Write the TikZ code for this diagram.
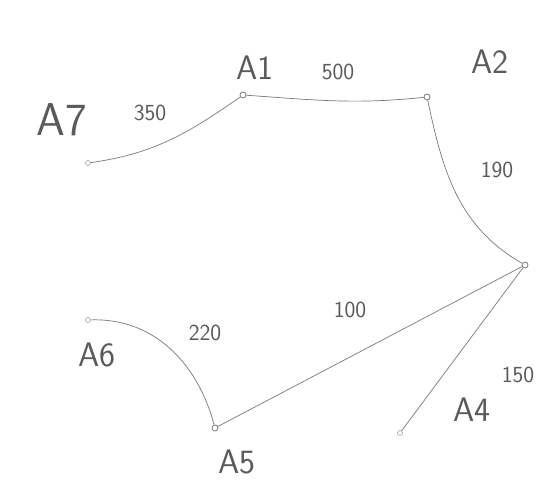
\documentclass[tikz,border=0pt]{standalone}
\usepackage{tikz}
\usetikzlibrary{arrows.meta,positioning,calc}
\definecolor{PencilGray}{RGB}{120,120,120}
\definecolor{InkGray}{RGB}{90,90,90}
\tikzset{
  vtx/.style={circle,draw=PencilGray,fill=white,thick,inner sep=0pt,minimum size=6pt},
  endpt/.style={circle,draw=PencilGray,fill=white,inner sep=0pt,minimum size=5pt},
  road/.style={draw=PencilGray,line width=0.7pt},
  namelbl/.style={text=InkGray,font=\sffamily\fontsize{34}{34}\selectfont},
  biglbl/.style={text=InkGray,font=\sffamily\fontsize{46}{46}\selectfont},
  weight/.style={text=InkGray,font=\sffamily\fontsize{23}{23}\selectfont}
}
\begin{document}
\begin{tikzpicture}[x=1pt,y=1pt]
  \useasboundingbox (0,0) rectangle (554,498);

  % stops
  \node[vtx] (A1) at (243,403) {};
  \node[vtx] (A2) at (427,401) {};
  \node[vtx] (R) at (525,233) {};
  \node[vtx] (A5) at (215,70) {};
  \node[endpt] (A7) at (88,335) {};
  \node[endpt] (A6) at (88,178) {};
  \node[endpt] (A4) at (400,65) {};

  % names
  \node[biglbl] (lA7) at (62,378) {A7};
  \node[namelbl] (lA1) at (255,430) {A1};
  \node[namelbl] (lA2) at (490,436) {A2};
  \node[namelbl] (lA6) at (97,143) {A6};
  \node[namelbl] (lA5) at (237,36) {A5};
  \node[namelbl] (lA4) at (472,88) {A4};

  % roads
  \draw[road] (A7) to[out=8,in=215] (A1);
  \draw[road] (A1) to[out=-4,in=186] (A2);
  \draw[road] (A2) to[out=-78,in=150] (R);
  \draw[road] (R) -- (A5);
  \draw[road] (A6) to[out=2,in=105] (A5);
  \draw[road] (R) -- (A4);

  % distances
  \node[weight] (w350) at (150,385) {350};
  \node[weight] (w500) at (338,426) {500};
  \node[weight] (w190) at (497,328) {190};
  \node[weight] (w100) at (350,188) {100};
  \node[weight] (w220) at (205,165) {220};
  \node[weight] (w150) at (518,123) {150};
\end{tikzpicture}
\end{document}
